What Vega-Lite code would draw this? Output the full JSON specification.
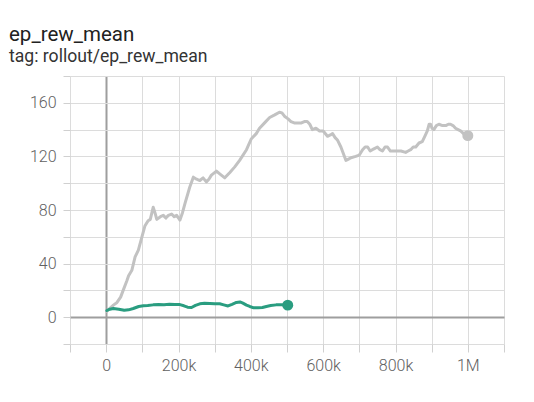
{
  "$schema": "https://vega.github.io/schema/vega-lite/v6.json",
  "width": 434,
  "height": 268,
  "autosize": {"type": "none"},
  "padding": {"left": 70, "top": 76, "right": 30, "bottom": 58},
  "background": "white",
  "config": {
    "view": {"stroke": null},
    "font": "Roboto",
    "axis": {
      "labelFont": "Roboto",
      "labelFontSize": 16,
      "labelFontWeight": 300,
      "labelColor": "#616161",
      "domain": false,
      "tickColor": "#d0d0d0",
      "gridColor": {"condition": {"test": "datum.value === 0", "value": "#9e9e9e"}, "value": "#dcdcdc"},
      "gridWidth": {"condition": {"test": "datum.value === 0", "value": 2}, "value": 1},
      "labelOverlap": false,
      "labelFlush": false,
      "labelBound": false,
      "title": null
    }
  },
  "title": {
    "text": "ep_rew_mean",
    "subtitle": "tag: rollout/ep_rew_mean",
    "anchor": "start",
    "frame": "group",
    "dx": -61,
    "offset": 2,
    "font": "Roboto",
    "fontSize": 20.5,
    "fontWeight": "normal",
    "color": "#212121",
    "subtitleFont": "Roboto",
    "subtitleFontSize": 17.6,
    "subtitleColor": "#333333",
    "subtitlePadding": 3
  },
  "datasets": {
    "runs": [
      {"run": "a", "step": 2000, "value": 4.5},
      {"run": "a", "step": 20000, "value": 9},
      {"run": "a", "step": 30000, "value": 11},
      {"run": "a", "step": 40000, "value": 15},
      {"run": "a", "step": 47000, "value": 20},
      {"run": "a", "step": 57000, "value": 27},
      {"run": "a", "step": 62000, "value": 31},
      {"run": "a", "step": 71000, "value": 35},
      {"run": "a", "step": 80000, "value": 45},
      {"run": "a", "step": 89000, "value": 50},
      {"run": "a", "step": 98000, "value": 59},
      {"run": "a", "step": 107000, "value": 68},
      {"run": "a", "step": 116000, "value": 72},
      {"run": "a", "step": 122000, "value": 73},
      {"run": "a", "step": 130000, "value": 82},
      {"run": "a", "step": 136000, "value": 77},
      {"run": "a", "step": 140000, "value": 73},
      {"run": "a", "step": 150000, "value": 75},
      {"run": "a", "step": 158000, "value": 76},
      {"run": "a", "step": 165000, "value": 74},
      {"run": "a", "step": 172000, "value": 76},
      {"run": "a", "step": 181000, "value": 77},
      {"run": "a", "step": 188000, "value": 75},
      {"run": "a", "step": 195000, "value": 76},
      {"run": "a", "step": 204000, "value": 72.5},
      {"run": "a", "step": 211000, "value": 78},
      {"run": "a", "step": 218000, "value": 85},
      {"run": "a", "step": 231000, "value": 97},
      {"run": "a", "step": 241000, "value": 104.5},
      {"run": "a", "step": 250000, "value": 103},
      {"run": "a", "step": 259000, "value": 102},
      {"run": "a", "step": 268000, "value": 104},
      {"run": "a", "step": 277000, "value": 101},
      {"run": "a", "step": 284000, "value": 103},
      {"run": "a", "step": 291000, "value": 106},
      {"run": "a", "step": 305000, "value": 109},
      {"run": "a", "step": 314000, "value": 107},
      {"run": "a", "step": 328000, "value": 104},
      {"run": "a", "step": 342000, "value": 108},
      {"run": "a", "step": 355000, "value": 112},
      {"run": "a", "step": 369000, "value": 117},
      {"run": "a", "step": 388000, "value": 125},
      {"run": "a", "step": 401000, "value": 133},
      {"run": "a", "step": 415000, "value": 137},
      {"run": "a", "step": 424000, "value": 141},
      {"run": "a", "step": 438000, "value": 145},
      {"run": "a", "step": 452000, "value": 149},
      {"run": "a", "step": 466000, "value": 151},
      {"run": "a", "step": 479000, "value": 153},
      {"run": "a", "step": 486000, "value": 152.5},
      {"run": "a", "step": 493000, "value": 150},
      {"run": "a", "step": 503000, "value": 148},
      {"run": "a", "step": 511000, "value": 146},
      {"run": "a", "step": 520000, "value": 145},
      {"run": "a", "step": 530000, "value": 145},
      {"run": "a", "step": 540000, "value": 145},
      {"run": "a", "step": 548000, "value": 146},
      {"run": "a", "step": 556000, "value": 146},
      {"run": "a", "step": 563000, "value": 144},
      {"run": "a", "step": 570000, "value": 140},
      {"run": "a", "step": 580000, "value": 141},
      {"run": "a", "step": 590000, "value": 139},
      {"run": "a", "step": 600000, "value": 139},
      {"run": "a", "step": 612000, "value": 135},
      {"run": "a", "step": 620000, "value": 136},
      {"run": "a", "step": 626000, "value": 137},
      {"run": "a", "step": 633000, "value": 134},
      {"run": "a", "step": 640000, "value": 132},
      {"run": "a", "step": 649000, "value": 127},
      {"run": "a", "step": 656000, "value": 122},
      {"run": "a", "step": 663000, "value": 117},
      {"run": "a", "step": 670000, "value": 118},
      {"run": "a", "step": 677000, "value": 119},
      {"run": "a", "step": 690000, "value": 120},
      {"run": "a", "step": 700000, "value": 121},
      {"run": "a", "step": 709000, "value": 125},
      {"run": "a", "step": 716000, "value": 127},
      {"run": "a", "step": 723000, "value": 127},
      {"run": "a", "step": 730000, "value": 124},
      {"run": "a", "step": 736000, "value": 125},
      {"run": "a", "step": 743000, "value": 126},
      {"run": "a", "step": 750000, "value": 127},
      {"run": "a", "step": 757000, "value": 125},
      {"run": "a", "step": 764000, "value": 124},
      {"run": "a", "step": 771000, "value": 127},
      {"run": "a", "step": 778000, "value": 127},
      {"run": "a", "step": 786000, "value": 124},
      {"run": "a", "step": 796000, "value": 124},
      {"run": "a", "step": 805000, "value": 124},
      {"run": "a", "step": 815000, "value": 124},
      {"run": "a", "step": 828000, "value": 123},
      {"run": "a", "step": 835000, "value": 124},
      {"run": "a", "step": 842000, "value": 125},
      {"run": "a", "step": 849000, "value": 127},
      {"run": "a", "step": 856000, "value": 127},
      {"run": "a", "step": 865000, "value": 130},
      {"run": "a", "step": 874000, "value": 131},
      {"run": "a", "step": 881000, "value": 135},
      {"run": "a", "step": 888000, "value": 139},
      {"run": "a", "step": 893000, "value": 144},
      {"run": "a", "step": 897000, "value": 144},
      {"run": "a", "step": 901000, "value": 141},
      {"run": "a", "step": 906000, "value": 140},
      {"run": "a", "step": 913000, "value": 143},
      {"run": "a", "step": 920000, "value": 144},
      {"run": "a", "step": 930000, "value": 143},
      {"run": "a", "step": 939000, "value": 143},
      {"run": "a", "step": 946000, "value": 144},
      {"run": "a", "step": 952000, "value": 144},
      {"run": "a", "step": 959000, "value": 143},
      {"run": "a", "step": 966000, "value": 141},
      {"run": "a", "step": 973000, "value": 140},
      {"run": "a", "step": 980000, "value": 139},
      {"run": "a", "step": 988000, "value": 137},
      {"run": "a", "step": 1000000, "value": 135.5},
      {"run": "b", "step": 2000, "value": 5},
      {"run": "b", "step": 10000, "value": 6},
      {"run": "b", "step": 20000, "value": 6.5},
      {"run": "b", "step": 35000, "value": 6},
      {"run": "b", "step": 50000, "value": 5.2},
      {"run": "b", "step": 62000, "value": 5.5},
      {"run": "b", "step": 75000, "value": 6.5},
      {"run": "b", "step": 90000, "value": 8},
      {"run": "b", "step": 103000, "value": 8.5},
      {"run": "b", "step": 115000, "value": 8.7},
      {"run": "b", "step": 130000, "value": 9.2},
      {"run": "b", "step": 145000, "value": 9.4},
      {"run": "b", "step": 160000, "value": 9.3},
      {"run": "b", "step": 175000, "value": 9.6},
      {"run": "b", "step": 190000, "value": 9.5},
      {"run": "b", "step": 204000, "value": 9.4},
      {"run": "b", "step": 215000, "value": 8.5},
      {"run": "b", "step": 225000, "value": 7.5},
      {"run": "b", "step": 236000, "value": 7.2},
      {"run": "b", "step": 247000, "value": 8.8},
      {"run": "b", "step": 259000, "value": 10},
      {"run": "b", "step": 272000, "value": 10.4},
      {"run": "b", "step": 287000, "value": 10.3},
      {"run": "b", "step": 300000, "value": 10},
      {"run": "b", "step": 314000, "value": 10},
      {"run": "b", "step": 325000, "value": 9.2},
      {"run": "b", "step": 337000, "value": 8.4},
      {"run": "b", "step": 348000, "value": 9.6},
      {"run": "b", "step": 360000, "value": 11},
      {"run": "b", "step": 370000, "value": 11.4},
      {"run": "b", "step": 378000, "value": 10.5},
      {"run": "b", "step": 388000, "value": 9},
      {"run": "b", "step": 397000, "value": 8},
      {"run": "b", "step": 408000, "value": 7},
      {"run": "b", "step": 420000, "value": 7},
      {"run": "b", "step": 432000, "value": 7.2},
      {"run": "b", "step": 443000, "value": 8},
      {"run": "b", "step": 455000, "value": 8.7},
      {"run": "b", "step": 470000, "value": 9.2},
      {"run": "b", "step": 485000, "value": 9.2},
      {"run": "b", "step": 502000, "value": 9}
    ]
  },
  "data": {"name": "runs"},
  "encoding": {
    "x": {
      "field": "step",
      "type": "quantitative",
      "scale": {"domain": [-100000, 1100000], "nice": false, "zero": false},
      "axis": {
        "values": [-100000, 0, 100000, 200000, 300000, 400000, 500000, 600000, 700000, 800000, 900000, 1000000, 1100000],
        "tickSize": 8,
        "labelPadding": 5,
        "labelExpr": "(datum.value % 200000 === 0 && datum.value >= 0) ? (datum.value === 0 ? '0' : (datum.value >= 1000000 ? (datum.value / 1000000) + 'M' : (datum.value / 1000) + 'k')) : ''"
      }
    },
    "y": {
      "field": "value",
      "type": "quantitative",
      "scale": {"domain": [-20, 180], "nice": false, "zero": false},
      "axis": {
        "values": [-20, 0, 20, 40, 60, 80, 100, 120, 140, 160, 180],
        "tickSize": 7,
        "labelPadding": 7,
        "labelExpr": "(datum.value % 40 === 0 && datum.value >= 0 && datum.value <= 160) ? datum.value : ''"
      }
    },
    "color": {
      "field": "run",
      "type": "nominal",
      "scale": {"domain": ["a", "b"], "range": ["#c2c2c2", "#2a9d80"]},
      "legend": null
    }
  },
  "layer": [
    {
      "mark": {"type": "line", "strokeWidth": 3, "strokeCap": "round", "strokeJoin": "round", "clip": true}
    },
    {
      "transform": [
        {"joinaggregate": [{"op": "max", "field": "step", "as": "last_step"}], "groupby": ["run"]},
        {"filter": "datum.step === datum.last_step"}
      ],
      "mark": {"type": "point", "filled": true, "opacity": 1, "size": 120}
    }
  ]
}
